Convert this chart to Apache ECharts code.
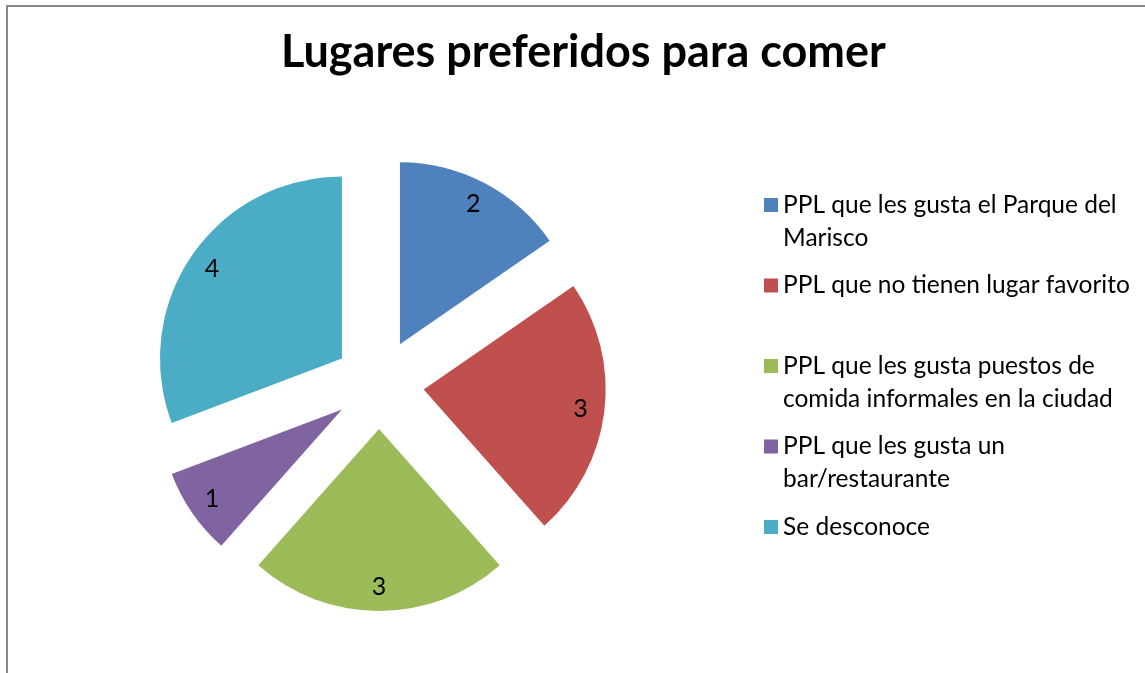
<!DOCTYPE html>
<html>
<head>
<meta charset="utf-8">
<title>Lugares preferidos para comer</title>
<script src="https://cdn.jsdelivr.net/npm/echarts@6/dist/echarts.min.js"></script>
<style>
  html, body { margin: 0; padding: 0; background: #fff; }
  #chart { width: 1145px; height: 673px; }
</style>
</head>
<body>
<div id="chart"></div>
<script>
// datos del gráfico
const categories = [
  'PPL que les gusta el Parque del Marisco',
  'PPL que no tienen lugar favorito',
  'PPL que les gusta puestos de comida informales en la ciudad',
  'PPL que les gusta un bar/restaurante',
  'Se desconoce'
]
const values = [2, 3, 3, 1, 4]
const colors = ['#4F81BD', '#C0504D', '#9BBB59', '#8064A2', '#4BACC6']

// texto de la leyenda partido en lineas como en el original
const legendText = {
  'PPL que les gusta el Parque del Marisco': 'PPL que les gusta el Parque del\nMarisco',
  'PPL que no tienen lugar favorito': 'PPL que no tienen lugar favorito',
  'PPL que les gusta puestos de comida informales en la ciudad': 'PPL que les gusta puestos de\ncomida informales en la ciudad',
  'PPL que les gusta un bar/restaurante': 'PPL que les gusta un\nbar/restaurante',
  'Se desconoce': 'Se desconoce'
}

const font = 'Lato, Carlito, "Open Sans", sans-serif'
const center = [379, 384]
const radius = 182
const offset = 45

const chart = echarts.init(document.getElementById('chart'))

const pieData = categories.map((name, i) => ({
  name,
  value: values[i],
  selected: true,
  itemStyle: { color: colors[i] },
  select: { itemStyle: { color: colors[i], borderWidth: 0 } }
}))

// anillo invisible sin desplazar: el desplazamiento es radial, asi que
// la mitad del anillo a 200px cae en el mismo sitio que en el sector separado
const labelData = categories.map((name, i) => ({
  name,
  value: values[i]
}))

// el icono queda centrado en el bloque de texto: una linea vacia arriba
// deja la primera linea real a la altura del icono
function legendFormatter(name) {
  const t = legendText[name]
  return t.indexOf('\n') >= 0 ? '\n' + t : '\n' + t + '\n'
}

const option = {
  backgroundColor: '#fff',
  animation: false,
  color: colors,
  textStyle: { fontFamily: font },
  title: {
    text: 'Lugares preferidos para comer',
    left: 281,
    top: 30,
    padding: 0,
    textStyle: {
      fontFamily: font,
      fontSize: 45,
      fontWeight: 'bold',
      color: '#000'
    }
  },
  legend: {
    orient: 'vertical',
    left: 764,
    top: 155.5,
    padding: 0,
    itemGap: -18.5,
    itemWidth: 14,
    itemHeight: 14,
    icon: 'rect',
    selectedMode: false,
    formatter: legendFormatter,
    textStyle: {
      fontFamily: font,
      fontSize: 24.5,
      lineHeight: 33,
      color: '#000'
    },
    data: categories
  },
  graphic: [{
    type: 'rect',
    silent: true,
    shape: { x: 7, y: 6, width: 1200, height: 700 },
    style: { fill: 'none', stroke: '#888888', lineWidth: 2 }
  }],
  series: [
    {
      name: 'Lugares',
      type: 'pie',
      center,
      radius: [0, radius],
      startAngle: 90,
      clockwise: true,
      selectedMode: 'multiple',
      selectedOffset: offset,
      silent: true,
      label: { show: false },
      labelLine: { show: false },
      emphasis: { disabled: true },
      data: pieData
    },
    {
      name: 'Etiquetas',
      type: 'pie',
      center,
      radius: [180, 220],
      startAngle: 90,
      clockwise: true,
      selectedMode: false,
      silent: true,
      z: 3,
      itemStyle: { color: 'rgba(0,0,0,0)' },
      label: {
        show: true,
        position: 'inside',
        formatter: '{v|{c}}',
        fontFamily: font,
        fontSize: 25,
        color: '#000',
        rich: {
          v: { fontFamily: font, fontSize: 25, color: '#000' }
        }
      },
      labelLine: { show: false },
      emphasis: { disabled: true },
      data: labelData
    }
  ]
}

chart.setOption(option)
</script>
</body>
</html>
